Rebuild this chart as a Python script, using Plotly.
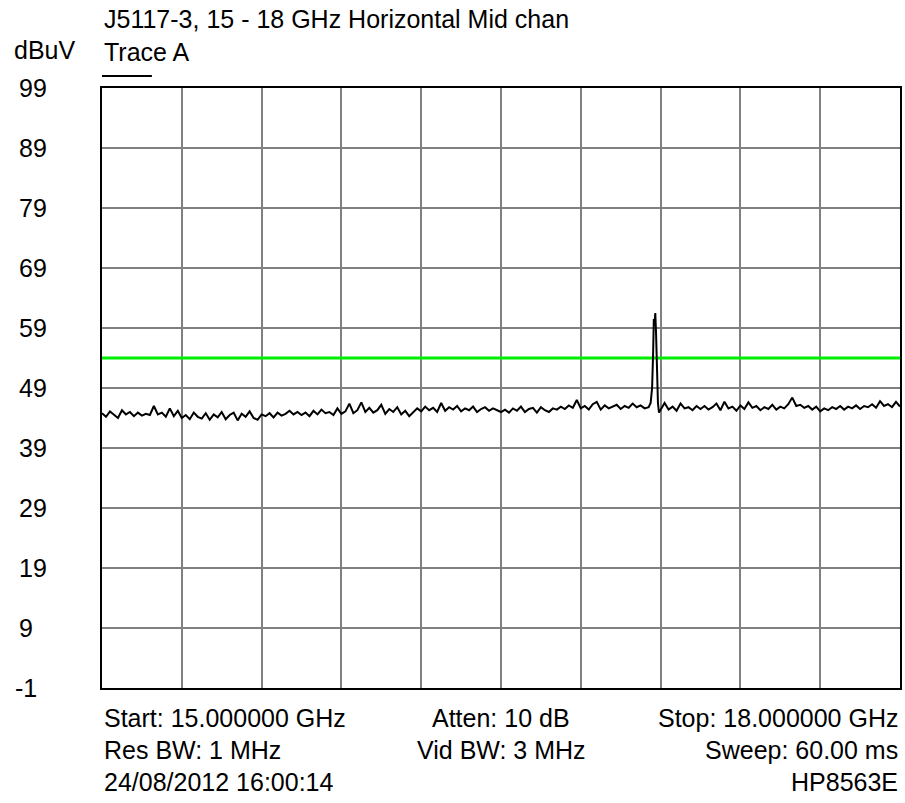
import numpy as np
import plotly.graph_objects as go

# ---- data ----
f_start, f_stop = 15.0, 18.0          # GHz
y_min, y_max = -1, 99                 # dBuV
limit_db = 54.0                       # green limit line

noise_db = [
    44.8, 44.2, 45.1, 44.5, 44.0, 45.3, 44.6, 45.0, 44.3, 44.9, 44.4, 44.7, 44.5, 46.0, 44.6, 44.9, 44.2, 45.6, 44.3, 45.2, 44.0, 44.5, 43.8, 44.9, 44.2,
    43.9, 44.8, 43.7, 44.6, 44.1, 45.0, 43.8, 44.5, 44.9, 43.6, 44.7, 44.2, 45.1, 44.0, 43.7, 44.6, 44.3, 44.8, 44.1, 44.9, 44.4, 44.7, 45.2, 44.6, 45.0,
    44.5, 44.9, 44.3, 45.2, 44.6, 45.4, 44.8, 45.0, 44.5, 45.6, 44.7, 45.1, 46.4, 44.8, 45.3, 46.6, 45.0, 45.7, 44.9, 45.3, 46.2, 44.7, 45.5, 45.0, 45.8,
    44.6, 45.2, 44.3, 45.0, 45.6, 45.1, 45.9, 45.3, 45.7, 45.0, 46.5, 45.2, 45.8, 45.4, 46.0, 45.1, 45.6, 45.3, 45.9, 45.0, 45.5, 45.8, 45.2, 45.6, 45.3,
    45.0, 45.4, 44.9, 45.6, 45.2, 45.9, 45.0, 45.5, 45.7, 44.9, 45.8, 45.3, 45.0, 45.6, 45.4, 45.9, 45.5, 46.1, 45.7, 47.0, 45.6, 46.0, 45.4, 46.3, 46.7,
    45.4, 46.1, 45.6, 45.9, 46.2, 45.5, 46.0, 45.7, 46.4, 45.8, 46.1, 45.6, 45.8, 46.0, 46.0, 45.3, 46.5, 45.4, 45.9, 45.2, 46.4, 45.6, 45.8, 45.3, 46.0,
    45.5, 46.0, 45.4, 45.8, 46.4, 45.3, 46.7, 45.6, 45.9, 45.2, 46.1, 45.5, 46.6, 45.7, 46.0, 45.3, 45.8, 45.5, 46.2, 45.4, 45.9, 45.6, 46.3, 47.4, 46.0,
    46.2, 45.7, 46.0, 45.4, 45.9, 45.1, 45.6, 45.3, 45.8, 45.5, 46.0, 45.4, 45.9, 45.6, 46.1, 45.5, 46.0, 45.8, 46.3, 45.7, 46.8, 46.0, 46.3, 45.8, 46.7, 45.9,
]

peak_freq = [17.0625, 17.068, 17.072, 17.0745, 17.077, 17.080, 17.083, 17.087, 17.090, 17.094]
peak_db   = [46.5,    49.0,   55.0,   60.5,    59.5,   61.5,   58.0,   52.0,   46.5,   44.9]

y_tick_vals = [99, 89, 79, 69, 59, 49, 39, 29, 19, 9, -1]

title_text = "J5117-3, 15 - 18 GHz Horizontal Mid chan"
unit_text = "dBuV"
trace_label = "Trace A"
footer_left = ["Start: 15.000000 GHz", "Res BW: 1 MHz", "24/08/2012 16:00:14"]
footer_mid = ["Atten: 10 dB", "Vid BW: 3 MHz", ""]
footer_right = ["Stop: 18.000000 GHz", "Sweep: 60.00 ms", "HP8563E"]

# ---- build trace ----
noise_freq = np.linspace(f_start, f_stop, len(noise_db))
keep = (noise_freq < min(peak_freq) - 0.004) | (noise_freq > max(peak_freq) + 0.001)
fx = np.concatenate([noise_freq[keep], peak_freq])
fy = np.concatenate([np.array(noise_db)[keep], peak_db])
order = np.argsort(fx)
fx, fy = fx[order], fy[order]

FONT = "Liberation Sans, Arial, sans-serif"
FS = 25

fig = go.Figure()
fig.add_trace(go.Scatter(x=[f_start, f_stop], y=[limit_db, limit_db], mode="lines",
                         line=dict(color="#00ee00", width=3), hoverinfo="skip"))
fig.add_trace(go.Scatter(x=fx, y=fy, mode="lines",
                         line=dict(color="black", width=2), hoverinfo="skip"))

W, H = 905, 803
L, T = 102, 88
R = W - 902
B = H - 688
pw = W - L - R
ph = H - T - B

def px_x(x):
    return (x - L) / pw

def px_y(y):
    return (H - B - y) / ph

annotations = []
for v in y_tick_vals:
    annotations.append(dict(x=px_x(17 if v >= 0 else 13), y=v, xref="paper", yref="y", text=str(v),
                            showarrow=False, xanchor="left", yanchor="middle",
                            font=dict(family=FONT, size=FS, color="black")))
annotations.append(dict(x=px_x(102), y=px_y(19), xref="paper", yref="paper", text=title_text,
                        showarrow=False, xanchor="left", yanchor="middle",
                        font=dict(family=FONT, size=FS, color="black")))
annotations.append(dict(x=px_x(12), y=px_y(50), xref="paper", yref="paper", text=unit_text,
                        showarrow=False, xanchor="left", yanchor="middle",
                        font=dict(family=FONT, size=FS, color="black")))
annotations.append(dict(x=px_x(102), y=px_y(52), xref="paper", yref="paper", text=trace_label,
                        showarrow=False, xanchor="left", yanchor="middle",
                        font=dict(family=FONT, size=FS, color="black")))
rows_y = [718, 750, 782]
for i, yy in enumerate(rows_y):
    for txt, xx, anc in ((footer_left[i], 0.0, "left"), (footer_mid[i], 0.5, "center"),
                         (footer_right[i], 1.0, "right")):
        if txt:
            annotations.append(dict(x=xx, y=px_y(yy), xref="paper", yref="paper", text=txt,
                                    showarrow=False, xanchor=anc, yanchor="middle",
                                    font=dict(family=FONT, size=FS, color="black")))

fig.update_layout(
    width=W, height=H,
    margin=dict(l=L, r=R, t=T, b=B, pad=0),
    paper_bgcolor="white", plot_bgcolor="white",
    showlegend=False,
    annotations=annotations,
    shapes=[dict(type="line", xref="paper", yref="paper", x0=0, x1=px_x(152),
                 y0=px_y(76), y1=px_y(76), line=dict(color="black", width=2))],
    xaxis=dict(range=[f_start, f_stop], dtick=0.3, tick0=f_start, showgrid=True,
               gridcolor="#808080", gridwidth=2, showticklabels=False, ticks="",
               zeroline=False, showline=True, linecolor="black", linewidth=2, mirror=True,
               fixedrange=True),
    yaxis=dict(range=[y_min, y_max], dtick=10, tick0=y_min, showgrid=True,
               gridcolor="#808080", gridwidth=2, showticklabels=False, ticks="",
               zeroline=False, showline=True, linecolor="black", linewidth=2, mirror=True,
               fixedrange=True),
)

fig.write_html("out.html", config={"displayModeBar": False},
               post_script="document.body.style.margin='0';document.body.style.overflow='hidden';")
